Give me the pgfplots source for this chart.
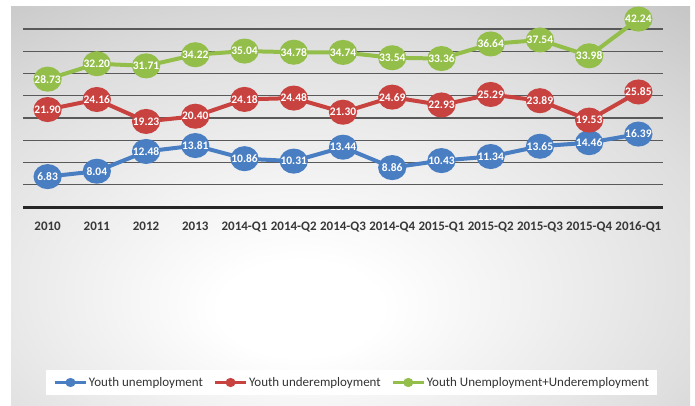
\documentclass[border=0pt]{standalone}
\usepackage{pgfplots}
\pgfplotsset{compat=1.18}
\usepackage{fontspec}
\setmainfont{Carlito}
\definecolor{sblue}{HTML}{4A7EC2}
\definecolor{sred}{HTML}{C8423F}
\definecolor{sgreen}{HTML}{93BE4A}
\pgfdeclareradialshading{bgshade}{\pgfpoint{-4bp}{-14bp}}{color(0bp)=(white);color(6bp)=(white);color(30bp)=(black!13);color(55bp)=(black!33);color(80bp)=(black!42)}
\begin{document}
\begin{tikzpicture}[x=1pt,y=1pt]
\path[use as bounding box] (0,0) rectangle (695,405);
\shade[shading=bgshade] (11,0) rectangle (690,398);
\begin{axis}[
  at={(23pt,198pt)}, anchor=south west,
  scale only axis, width=640pt, height=200.25pt,
  xmin=-0.5, xmax=12.5, ymin=0, ymax=45,
  clip=false,
  axis line style={draw=none},
  major tick length=0pt,
  ytick={5,10,...,40}, yticklabels={},
  ymajorgrids, grid style={black!65, line width=1.1pt},
  extra y ticks={0}, extra y tick labels={},
  extra y tick style={grid style={black!85, line width=3pt}},
  xtick={0,...,12},
  xticklabels={2010,2011,2012,2013,2014-Q1,2014-Q2,2014-Q3,2014-Q4,2015-Q1,2015-Q2,2015-Q3,2015-Q4,2016-Q1},
  xticklabel style={font=\fontsize{13}{15}\selectfont\bfseries, text=black!78, yshift=-11pt},
  /pgf/number format/assume math mode=true,
  every axis plot/.append style={line width=4pt, mark=*, mark size=10.5pt, mark options={xscale=1.15, solid}},
  nodes near coords={\pgfmathprintnumber[fixed,fixed zerofill,precision=2]{\pgfplotspointmeta}},
  every node near coord/.append style={anchor=center, font=\fontsize{11.5}{13}\selectfont\bfseries, text=white},
  legend columns=3,
  legend style={at={(0.514,-0.8764)}, anchor=center, fill=white, draw=none,
    font=\fontsize{13}{15}\selectfont, text=black!80, inner xsep=7pt, inner ysep=5pt,
    nodes={inner xsep=1.5pt},
    /tikz/every even column/.append style={column sep=9pt}},
  legend image code/.code={\draw[mark repeat=2,mark phase=2,#1,line width=3pt,mark size=3pt] plot coordinates {(0pt,0pt)(15.5pt,0pt)(31pt,0pt)};},
]
\addplot[color=sblue] coordinates {(0,6.83)(1,8.04)(2,12.48)(3,13.81)(4,10.86)(5,10.31)(6,13.44)(7,8.86)(8,10.43)(9,11.34)(10,13.65)(11,14.46)(12,16.39)};
\addlegendentry{Youth unemployment}
\addplot[color=sred] coordinates {(0,21.90)(1,24.16)(2,19.23)(3,20.40)(4,24.18)(5,24.48)(6,21.30)(7,24.69)(8,22.93)(9,25.29)(10,23.89)(11,19.53)(12,25.85)};
\addlegendentry{Youth underemployment}
\addplot[color=sgreen] coordinates {(0,28.73)(1,32.20)(2,31.71)(3,34.22)(4,35.04)(5,34.78)(6,34.74)(7,33.54)(8,33.36)(9,36.64)(10,37.54)(11,33.98)(12,42.24)};
\addlegendentry{Youth Unemployment+Underemployment}
\end{axis}
\end{tikzpicture}
\end{document}
